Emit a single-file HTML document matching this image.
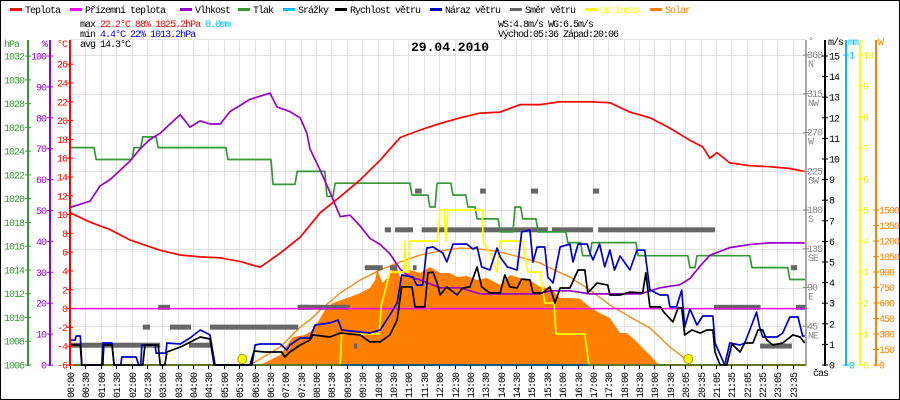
<!DOCTYPE html>
<html><head><meta charset="utf-8"><style>
html,body{margin:0;padding:0;background:#fff}
svg{display:block}
text{font-family:"Liberation Mono","DejaVu Sans Mono",monospace;font-size:10px;letter-spacing:-1px}
</style></head><body>
<svg id="chart" width="900" height="400" viewBox="0 0 900 400" xmlns="http://www.w3.org/2000/svg">
<rect x="0.5" y="0.5" width="899" height="399" fill="#fff" stroke="#000"/>
<g id="grid"></g>
<g id="series"></g>
<g id="axes"></g>
<g id="legend"></g>
<text x="450" y="51" text-anchor="middle" style="font-size:13px;font-weight:bold;letter-spacing:0">29.04.2010</text>
<g>
<text x="80" y="27">max <tspan fill="#f00">22.2°C</tspan>  <tspan fill="#f00">88%</tspan>  <tspan fill="#f00">1025.2hPa</tspan>   <tspan fill="#0bf">0.0mm</tspan></text>
<text x="80" y="37">min  <tspan fill="#00f">4.4°C</tspan>  <tspan fill="#00f">22%</tspan>  <tspan fill="#00f">1013.2hPa</tspan></text>
<text x="80" y="47">avg 14.3°C</text>
<text x="498" y="27">WS:4.8m/s   WG:6.5m/s</text>
<text x="498" y="37">Východ:05:36 Západ:20:06</text>
</g>
<text x="813" y="376">čas</text>
</svg>
<script>
const tempT=[0,39,78,117,176,215,254,293,332,371,410,449,488,527,566,605,644,683,722,761,800,839,878,917,956,1014,1053,1092,1131,1170,1209,1234,1248,1262,1287,1326,1365,1404,1433];
const tempV=[10.2,9.2,8.4,7.3,6.2,5.7,5.5,5.4,5.0,4.4,5.9,7.6,10.2,11.9,13.7,15.8,18.2,19.0,19.7,20.3,20.8,20.9,21.7,21.7,22.0,22.0,21.9,20.9,20.3,19.2,17.9,17.2,16.0,16.6,15.5,15.2,15.1,14.9,14.6];
const humT=[0,39,59,78,98,117,137,156,176,195,215,234,254,273,293,312,332,351,371,390,404,429,449,462,468,488,507,527,546,566,585,605,624,644,663,683,722,761,800,839,878,917,936,975,1014,1073,1112,1151,1190,1209,1229,1248,1287,1326,1365,1404,1433];
const humV=[51,53,58,60,63,66,70,73,75,78,81,77,79,78,78,82,84,86,87,88,83.5,82,80,75,70,63,56,48,48.5,45,41,39,36,31,28.5,27.5,25,25,23,23,23,23,24,24,23,23,23,25,26,28,32,35.5,38,39,39.5,39.5,39.5];
const presT=[0,51,125,142,172,308,396,443,501,517,667,702,716,747,776,794,839,868,883,913,971,1000,1018,1108,1209,1223,1330,1404,1434];
const presV=[1024.3,1023.3,1024.3,1025.2,1024.3,1023.3,1021.2,1022.3,1020.2,1021.3,1020.3,1019.3,1021.3,1020.3,1019.3,1018.3,1017.2,1019.3,1018.3,1017.2,1016.3,1015.2,1016.3,1015.2,1014.2,1015.2,1014.2,1013.2,1013.2];
const dewT=[0,1434];
const dewV=[0,0];
const windT=[0,20,23,64,66,82,86,142,146,172,176,185,189,215,254,273,281,351,359,380,413,419,429,449,468,474,507,527,566,585,605,624,638,647,667,673,692,698,708,716,722,735,755,766,780,794,803,819,839,848,858,872,881,897,903,922,936,946,956,975,991,1004,1010,1028,1049,1053,1073,1092,1117,1123,1131,1151,1160,1176,1186,1193,1199,1213,1229,1242,1254,1258,1268,1281,1291,1307,1316,1332,1342,1351,1359,1371,1390,1410,1424,1433];
const windV=[0.97,0.97,0,0,0.97,0.97,0,0,0.97,0.97,0,0,0.63,0.87,1.36,1.26,0,0,0.68,0.63,0.63,0.39,0.63,0.97,1.21,1.46,1.36,1.55,1.46,1.12,1.12,1.46,2.18,3.79,3.79,2.82,2.82,4.47,4.51,3.98,3.40,3.79,3.40,3.74,3.79,4.76,3.79,3.50,3.50,4.37,3.79,3.74,4.17,4.13,3.50,3.50,3.79,3.01,3.74,3.74,4.61,4.61,3.50,3.98,3.88,3.40,3.40,3.54,3.50,4.47,2.82,2.82,2.52,2.09,2.77,2.77,1.46,1.70,1.55,1.70,1.70,0.63,0,0,1.02,0.63,1.07,1.07,1.70,1.70,1.21,0.97,1.07,1.46,1.36,1.07];
const gustT=[0,10,12,20,23,62,64,82,86,99,101,129,134,138,140,166,168,187,189,215,234,254,273,283,355,361,371,410,423,429,449,468,478,507,523,530,566,585,605,624,638,647,669,676,688,696,708,727,735,747,774,786,794,803,819,833,839,853,872,881,897,903,911,926,932,942,956,975,981,991,1009,1014,1020,1033,1043,1053,1062,1073,1092,1106,1121,1131,1151,1166,1170,1183,1193,1199,1209,1223,1234,1254,1258,1277,1287,1307,1316,1326,1339,1345,1351,1379,1390,1404,1420,1429,1433];
const gustV=[1.21,1.21,1.41,1.41,0,0,1.07,1.07,0,0,0.39,0.39,0,0,0.97,0.97,0.58,0.58,1.07,1.02,1.31,1.70,1.46,0,0,0.97,1.02,1.02,0.73,0.97,1.31,1.31,1.94,2.04,2.18,1.70,1.60,1.55,1.70,2.43,3.01,4.37,4.27,3.88,3.88,5.68,5.73,5.44,5.0,5.87,5.87,5.63,5.73,4.76,4.61,5.68,5.24,4.76,4.61,6.46,6.55,5.0,5.73,5.73,4.27,3.98,5.73,5.87,5.0,5.87,5.87,5.44,5.10,5.87,4.76,5.58,4.61,5.29,4.61,5.58,5.58,3.64,3.40,3.40,2.82,2.82,3.64,1.84,2.72,1.94,2.38,2.38,1.07,0,1.07,0.97,1.07,1.70,2.57,1.84,1.36,1.36,1.55,2.33,2.33,1.41,1.41];
const solarT=[371,410,435,458,474,501,513,546,566,585,595,599,610,624,634,644,663,683,702,722,741,755,774,794,813,839,858,878,897,917,936,956,975,995,1014,1033,1053,1073,1086,1102,1117,1131,1145,1156];
const solarV=[0,97,271,290,339,561,600,658,697,745,823,920,794,871,997,852,920,891,949,891,891,852,862,823,842,774,871,842,823,755,745,649,649,640,561,503,455,310,310,242,165,97,19,0];
const solMaxT=[351,410,449,468,488,527,566,605,644,683,722,761,800,839,878,917,936,975,1014,1053,1092,1131,1170,1203];
const solMaxV=[0,174,368,436,532,697,823,920,997,1065,1104,1133,1123,1094,1045,987,939,852,726,581,465,358,174,48];
const uvT=[0,527,530,603,607,624,651,653,655,661,663,716,722,730,733,737,804,806,819,833,839,883,893,917,926,944,948,1004,1012,1434];
const uvV=[0,0,1,1,1.9,3,3,4,3,3,4,4,5,5,4,5,5,4,3.6,3,4,4,3,3,2,2,1,1,0,0];
const rainT=[0,1434];
const rainV=[0,0];
const dirStart=[0,142,172,195,232,273,444,449,554,575,624,669,614,634,686,673,800,899,940,1030,1020,1256,1416,1406,1346];
const dirEnd=[176,156,195,236,275,445,468,546,560,610,638,676,626,669,932,686,811,913,1020,1258,1032,1347,1437,1418,1408];
const dirDeg=[23,44,67,44,23,44,67,67,22,113,113,113,157,157,157,202,202,202,157,157,202,67,67,113,22];
const sunT=[336,1206];
const timeLabels=["00:00","00:30","01:00","01:30","02:00","02:30","03:00","03:30","04:00","04:30","05:00","05:30","06:00","06:30","07:00","07:30","08:00","08:30","09:00","09:30","10:00","10:30","11:00","11:30","12:00","12:30","13:00","13:30","14:00","14:30","15:00","15:30","16:00","16:30","17:00","17:30","18:00","18:30","19:00","19:30","20:05","20:35","21:05","21:35","22:05","22:35","23:05","23:35"];
const hpaTicks=[1006,1008,1010,1012,1014,1016,1018,1020,1022,1024,1026,1028,1030,1032];
const humTicks=[0,10,20,30,40,50,60,70,80,90,100];
const tempTicks=[-6,-4,-2,0,2,4,6,8,10,12,14,16,18,20,22,24,26];
const dirTicks=[45,90,135,180,225,270,315,360];
const dirNames=["NE","E","SE","S","SW","W","NW","N"];
const msTicks=[0,1,2,3,4,5,6,7,8,9,10,11,12,13,14,15];
const uvTicks=[0,1,2,3,4,5,6,7,8,9,10];
const wTicks=[0,150,300,450,600,750,900,1050,1200,1350,1500];

const X0=70,XR=0.5127,YB=365;
const xS=t=>X0+t*XR;
const yT=c=>308.6-9.4*c;
const yH=p=>YB-3.09*p;
const yP=h=>YB-11.88*(h-1006);
const yW=v=>YB-20.6*v;
const yD=d=>YB-0.861*d;
const ySol=w=>YB-0.1033*w;
const yUV=u=>YB-31*u;
const NS="http://www.w3.org/2000/svg";
function mk(par,tag,attrs){const e=document.createElementNS(NS,tag);for(const k in attrs)e.setAttribute(k,attrs[k]);par.appendChild(e);return e;}
const grid=document.getElementById('grid'),ser=document.getElementById('series'),axes=document.getElementById('axes'),leg=document.getElementById('legend');

for(let i=0;i<timeLabels.length;i++){const x=Math.round(X0+i*15.38)+0.5;
 const g=mk(grid,'line',{x1:x,y1:40,x2:x,y2:YB,stroke:'#e2e2e2'});
 
 
 const tk=mk(axes,'line',{x1:x,y1:YB,x2:x,y2:YB+4,stroke:'#000'});
 
 
 const tl=mk(axes,'text',{transform:`translate(${x+3.5},398) rotate(-90)`});
 tl.textContent=timeLabels[i];
 
 
}
for(let k=1;k<=8;k++){const y=Math.round(yD(45*k))+0.5;const g=mk(grid,'line',{x1:X0,y1:y,x2:806,y2:y,stroke:'#e2e2e2'});
 
 }
mk(grid,'line',{x1:X0,y1:39.5,x2:806,y2:39.5,stroke:'#e2e2e2'});

function line(T,V,ys,col,w,name){let d='';for(let i=0;i<T.length;i++)d+=(i?'L':'M')+xS(T[i]).toFixed(1)+','+ys(V[i]).toFixed(1);
 const p=mk(ser,'path',{d:d,fill:'none',stroke:col,'stroke-width':w,'stroke-linejoin':'round'});
 
 return p;}

{let d='M'+xS(solarT[0])+','+YB;for(let i=0;i<solarT.length;i++)d+='L'+xS(solarT[i]).toFixed(1)+','+ySol(solarV[i]).toFixed(1);d+='L'+xS(solarT[solarT.length-1])+','+YB+'Z';
 const p=mk(ser,'path',{d:d,fill:'#ff8000'});
 
 }
line(solMaxT,solMaxV,ySol,'#ff8000',1.3,'solar-theoretical-line');
for(let i=0;i<dirDeg.length;i++){const r=mk(ser,'rect',{x:xS(dirStart[i]),y:yD(dirDeg[i])-2.5,width:xS(dirEnd[i])-xS(dirStart[i]),height:5,fill:'#666'});
 
 }
{const T=[],V=[];for(let i=0;i<presT.length;i++){T.push(presT[i]);V.push(presV[i]);if(i<presT.length-1){T.push(presT[i+1]-4);V.push(presV[i]);}}
 line(T,V,yP,'#339933',1.7,'pressure-line');}
line(humT,humV,yH,'#9900cc',1.7,'humidity-line');
line(tempT,tempV,yT,'#ff0000',1.7,'temperature-line');
line(dewT,dewV,yT,'#ff00ff',1.5,'ground-temperature-line');
line(rainT,rainV,v=>YB-310*v,'#00bbff',2,'rain-line');
line(uvT,uvV,yUV,'#ffff00',1.7,'uv-index-line');
line(gustT,gustV,yW,'#0000cc',1.7,'wind-gust-line');
line(windT,windV,yW,'#000000',1.7,'wind-speed-line');
for(let i=0;i<sunT.length;i++){const c=mk(ser,'circle',{cx:xS(sunT[i]),cy:YB-6,r:4.5,fill:'#ffff00',stroke:'#aa9900'});
 
 }
mk(ser,'line',{x1:X0,y1:YB,x2:806,y2:YB,stroke:'#000','stroke-width':1});

function vax(x,col,name,w){const l=mk(axes,'line',{x1:x,y1:40,x2:x,y2:YB+1,stroke:col,'stroke-width':w||2});
 
 }
function lbl(x,y,s,col,anchor,name){const t=mk(axes,'text',{x:x,y:y,fill:col,'text-anchor':anchor||'start'});t.textContent=s;
 
 return t;}
vax(28,'#339933','pressure-axis');vax(50,'#9900cc','humidity-axis');vax(70,'#ff0000','temperature-axis');
vax(806,'#888','direction-axis',1.5);vax(825,'#000','wind-axis');vax(846,'#00bbff','rain-axis');vax(860,'#ffff00','uv-axis');vax(876,'#ff8000','solar-axis');
lbl(4,47,'hPa','#339933','start','pressure-axis-title');lbl(42,47,'%','#9900cc','start','humidity-axis-title');lbl(57,47,'°C','#ff0000','start','temperature-axis-title');
hpaTicks.forEach(v=>{const y=yP(v);mk(axes,'line',{x1:25,y1:y,x2:31,y2:y,stroke:'#339933'});lbl(24,y+3.5,String(v),'#339933','end','pressure-tick-label');});
humTicks.forEach(v=>{const y=yH(v);mk(axes,'line',{x1:47,y1:y,x2:53,y2:y,stroke:'#9900cc'});lbl(46,y+3.5,String(v),'#9900cc','end','humidity-tick-label');});
tempTicks.forEach(v=>{const y=yT(v);mk(axes,'line',{x1:67,y1:y,x2:73,y2:y,stroke:'#ff0000'});lbl(67,y+3.5,String(v),'#ff0000','end','temperature-tick-label');});
lbl(808,44,'°','#888','start','direction-axis-title');lbl(828,45,'m/s','#000','start','wind-axis-title');lbl(848,45,'mm','#00bbff','start','rain-axis-title');lbl(878,45,'W','#ff8000','start','solar-axis-title');
dirTicks.forEach((v,i)=>{const y=yD(v);mk(axes,'line',{x1:803,y1:y,x2:809,y2:y,stroke:'#888'});lbl(807,y+3,String(v),'#888','start','direction-tick-label');lbl(808,y+12,dirNames[i],'#888','start','direction-name-label');});
msTicks.forEach(v=>{const y=yW(v);mk(axes,'line',{x1:822,y1:y,x2:828,y2:y,stroke:'#000'});lbl(829,y+3.5,String(v),'#000','start','wind-tick-label');});
[0,1].forEach(v=>{const y=YB-310*v;mk(axes,'line',{x1:843,y1:y,x2:849,y2:y,stroke:'#00bbff'});lbl(849,y+3.5,String(v),'#00bbff','start','rain-tick-label');});
uvTicks.forEach(v=>{const y=yUV(v);mk(axes,'line',{x1:857,y1:y,x2:863,y2:y,stroke:'#ffff00'});lbl(863,y+3.5,String(v),'#eeee00','start','uv-tick-label');});
wTicks.forEach(v=>{const y=ySol(v);mk(axes,'line',{x1:873,y1:y,x2:879,y2:y,stroke:'#ff8000'});lbl(879,y+3.5,String(v),'#ff8000','start','solar-tick-label');});

const legNames=["Teplota","Přízemní teplota","Vlhkost","Tlak","Srážky","Rychlost větru","Náraz větru","Směr větru","UV index","Solar"];
const legColors=["#ff0000","#ff00ff","#9900cc","#339933","#00bbff","#000000","#0000cc","#666666","#ffff00","#ff8000"];
const legX=[10,70,180,238,283,335,430,510,585,650];
legNames.forEach((n,i)=>{const g=mk(leg,'g',{});
 
 
 mk(g,'rect',{x:legX[i],y:8,width:12,height:3,fill:legColors[i]});
 const t=mk(g,'text',{x:legX[i]+15,y:13,fill:i>=8?legColors[i]:'#000'});t.textContent=n;});
</script>
</body></html>
